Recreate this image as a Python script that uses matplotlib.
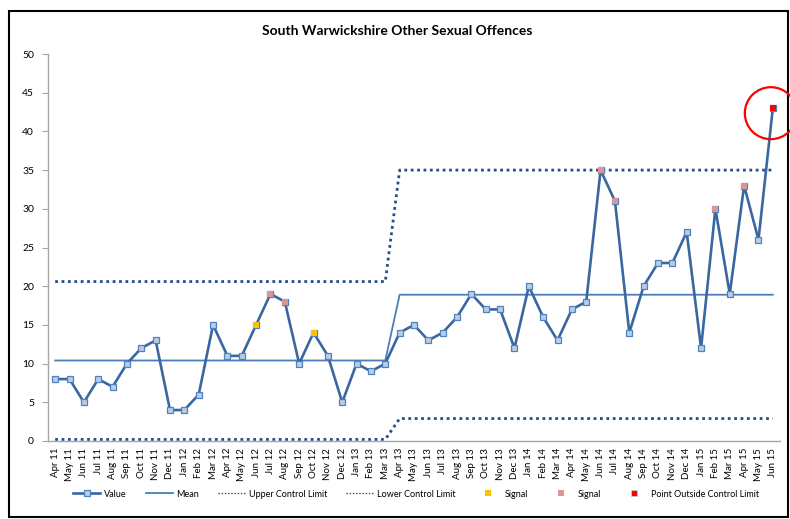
import matplotlib
matplotlib.use("Agg")
import matplotlib.pyplot as plt
from matplotlib.lines import Line2D
from matplotlib.patches import Rectangle, Circle
import numpy as np

plt.rcParams['font.family'] = ['Lato', 'DejaVu Sans']

# ---- data ----
months = ['Apr 11', 'May 11', 'Jun 11', 'Jul 11', 'Aug 11', 'Sep 11', 'Oct 11', 'Nov 11', 'Dec 11',
          'Jan 12', 'Feb 12', 'Mar 12', 'Apr 12', 'May 12', 'Jun 12', 'Jul 12', 'Aug 12', 'Sep 12',
          'Oct 12', 'Nov 12', 'Dec 12', 'Jan 13', 'Feb 13', 'Mar 13', 'Apr 13', 'May 13', 'Jun 13',
          'Jul 13', 'Aug 13', 'Sep 13', 'Oct 13', 'Nov 13', 'Dec 13', 'Jan 14', 'Feb 14', 'Mar 14',
          'Apr 14', 'May 14', 'Jun 14', 'Jul 14', 'Aug 14', 'Sep 14', 'Oct 14', 'Nov 14', 'Dec 14',
          'Jan 15', 'Feb 15', 'Mar 15', 'Apr 15', 'May 15', 'Jun 15']
values = [8, 8, 5, 8, 7, 10, 12, 13, 4,
          4, 6, 15, 11, 11, 15, 19, 18, 10,
          14, 11, 5, 10, 9, 10, 14, 15, 13,
          14, 16, 19, 17, 17, 12, 20, 16, 13,
          17, 18, 35, 31, 14, 20, 23, 23, 27,
          12, 30, 19, 33, 26, 43]

# two phases of the control chart (months in each phase)
phase_lengths = [24, 27]
phase_mean = [10.4, 18.9]
phase_ucl = [20.6, 35.0]
phase_lcl = [0.2, 2.9]

signal_yellow = ['Jun 12', 'Oct 12']
signal_pink = ['Jul 12', 'Aug 12', 'Jun 14', 'Jul 14', 'Feb 15', 'Apr 15']
outside_limit = ['Jun 15']

title = 'South Warwickshire Other Sexual Offences'

# ---- styles ----
line_col = '#3A67A0'
marker_face = '#B9CDE5'
marker_edge = '#4F81BD'
mean_col = '#4A7EBB'
limit_col = '#254E86'
yellow = '#FFC000'
pink = '#D99694'
red = '#FF0000'
dotted = (0, (1, 1.3))

x = np.arange(len(months))
vals = np.array(values, dtype=float)
mean_line = np.repeat(phase_mean, phase_lengths)
ucl_line = np.repeat(phase_ucl, phase_lengths)
lcl_line = np.repeat(phase_lcl, phase_lengths)

fig = plt.figure(figsize=(7.9, 5.19), dpi=100)
ax = fig.add_axes([48 / 790, 78 / 519, 732 / 790, 387 / 519])

ax.plot(x, ucl_line, color=limit_col, lw=2, linestyle=dotted, zorder=2)
ax.plot(x, lcl_line, color=limit_col, lw=2, linestyle=dotted, zorder=2, clip_on=False)
ax.plot(x, mean_line, color=mean_col, lw=1.3, zorder=2)
ax.plot(x, vals, color=line_col, lw=1.9, marker='s', markersize=4.8,
        markerfacecolor=marker_face, markeredgecolor=marker_edge, markeredgewidth=0.9, zorder=3)


def mark(labels, colour):
    idx = [months.index(m) for m in labels]
    ax.plot(x[idx], vals[idx], linestyle='none', marker='s', markersize=4,
            markerfacecolor=colour, markeredgewidth=0, zorder=4)


mark(signal_yellow, yellow)
mark(signal_pink, pink)
mark(outside_limit, red)

ax.set_xlim(-0.5, len(months) - 0.5)
ax.set_ylim(0, 50)
ax.set_yticks(range(0, 51, 5))
ax.set_xticks(x)
ax.set_xticklabels(months, rotation=90, fontsize=7)
ax.tick_params(axis='y', labelsize=7.5, length=4, color='#A6A6A6', pad=6)
ax.tick_params(axis='x', length=0, pad=5)
for s in ['top', 'right']:
    ax.spines[s].set_visible(False)
for s in ['left', 'bottom']:
    ax.spines[s].set_color('#A6A6A6')
    ax.spines[s].set_linewidth(1)

# circle around the point outside the control limit
out_i = months.index(outside_limit[0])
px, py = ax.transData.transform((x[out_i], vals[out_i]))
circ = Circle(((px - 2) / 100, (py - 5) / 100), 0.26, transform=fig.dpi_scale_trans,
              fill=False, edgecolor=red, lw=1.6, zorder=10)
fig.patches.append(circ)

fig.text(0.503, 0.94, title, ha='center', va='center', fontsize=10, fontweight='bold')

handles = [
    Line2D([], [], color=line_col, lw=1.9, marker='s', markersize=4.8,
           markerfacecolor=marker_face, markeredgecolor=marker_edge, markeredgewidth=0.9),
    Line2D([], [], color=mean_col, lw=1.3),
    Line2D([], [], color=limit_col, lw=1, linestyle=dotted),
    Line2D([], [], color=limit_col, lw=1, linestyle=dotted),
    Line2D([], [], linestyle='none', marker='s', markersize=4.2, markerfacecolor=yellow, markeredgewidth=0),
    Line2D([], [], linestyle='none', marker='s', markersize=4.2, markerfacecolor=pink, markeredgewidth=0),
    Line2D([], [], linestyle='none', marker='s', markersize=4.2, markerfacecolor=red,
           markeredgecolor=marker_face, markeredgewidth=0.6),
]
labels = ['Value', 'Mean', 'Upper Control Limit', 'Lower Control Limit', 'Signal', 'Signal',
          'Point Outside Control Limit']
fig.legend(handles, labels, loc='center', bbox_to_anchor=(0.527, 0.048), ncol=7, frameon=False,
           fontsize=6.5, handlelength=3, columnspacing=2.1, handletextpad=0.4)

# outer chart frame
fig.patches.append(Rectangle((9 / 790, 2 / 519), 779 / 790, 506 / 519, transform=fig.transFigure,
                             fill=False, edgecolor='black', lw=1.5))

fig.savefig('out.png', dpi=100)
